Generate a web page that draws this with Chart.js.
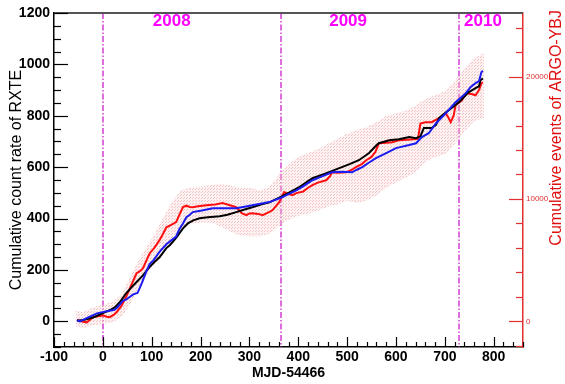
<!DOCTYPE html>
<html>
<head>
<meta charset="utf-8">
<script src="https://cdn.jsdelivr.net/npm/chart.js@4/dist/chart.umd.min.js"></script>
<style>
html,body{margin:0;padding:0;background:#fff;}
canvas{display:block;}
</style>
</head>
<body>
<canvas id="c" width="565" height="384"></canvas>
<script>
// ---- data (days = MJD-54466) ----
const rxteDays = [-53,-40,-20,0,14,25,35,48,60,70,82,95,105,116,130,137,150,164,174,185,198,215,239,255,273,290,306,325,341,361,380,400,429,455,484,505,524,545,560,565,586,606,627,641,650,657,673,682,688,708,729,749,763,770,773,778];
const rxteRate = [2,5,15,32,43,55,75,110,135,155,179,210,230,249,285,296,325,362,381,393,401,405,409,415,425,435,444,455,463,481,500,520,557,575,596,612,627,655,685,693,705,709,717,713,720,752,752,765,791,822,853,892,908,915,939,945];

const xray2Days = [-53,-47,-30,-12,8,24,30,41,48,62,71,80,90,96,103,116,130,140,150,157,164,171,178,184,200,225,250,273,290,306,341,367,380,396,410,429,450,469,490,510,520,531,545,559,580,600,627,641,653,667,682,702,722,743,753,763,770,775,778];
const xray2Rate = [4,0,15,31,39,45,55,80,85,105,110,150,199,224,236,270,300,315,330,360,381,405,415,425,430,440,440,440,446,452,464,483,495,510,525,549,565,580,582,580,590,600,618,635,655,674,686,693,717,732,771,810,853,888,912,927,935,970,975];

const argoDays = [-53,-45,-33,-20,-10,0,8,14,22,28,38,49,58,69,76,82,90,96,105,116,123,130,140,150,158,164,171,178,184,195,212,230,245,260,273,285,294,300,306,318,327,340,347,355,361,368,371,380,388,396,410,420,429,440,457,465,469,480,498,510,518,530,539,550,558,565,580,592,606,630,645,650,660,673,688,695,702,708,712,718,722,735,743,755,763,770,775,778];
const argoEvents = [105,0,-84,336,420,483,378,336,525,735,1260,2121,2940,3927,4095,4326,5040,5565,5985,6636,7140,7686,7875,8106,8820,9345,9450,9345,9324,9408,9492,9555,9660,9492,9324,8820,8673,8820,8841,8778,8673,8925,9072,9450,9744,10290,10563,10395,10311,10479,10605,10920,11130,11340,11529,11865,12180,12138,12180,12390,12600,12852,13167,13440,13860,14553,14595,14637,14805,14868,14910,16170,16275,16275,16611,16800,17010,16590,16275,16800,17661,18060,18648,18585,18480,18900,19467,19530];

const bandDays = [-55,-40,-20,0,20,40,60,80,100,120,140,160,180,200,220,240,260,280,300,320,340,360,380,400,420,440,460,480,500,520,540,560,580,600,620,640,660,680,700,720,740,760,780];
const bandLow  = [-420,-525,-315,-210,-105,420,1680,3150,4410,5250,6510,7560,7980,8085,8085,7770,7350,7035,6930,6930,7140,7770,8295,8610,8820,9030,9345,9555,9870,9660,9870,10290,10920,11340,11760,12180,13020,13440,13650,14490,15540,16380,16590];
const bandHigh = [840,735,1155,1365,1575,2310,3990,5460,6720,8190,9660,10710,10920,11025,11130,11235,11130,10920,10920,10710,10920,11970,12810,13440,13755,14070,14490,14910,15330,15645,15855,16275,16800,17010,17220,17640,18165,18480,18795,19635,20685,21525,21945];

const xTickValues = [-100,0,100,200,300,400,500,600,700,800];
const yTickValues = [0,200,400,600,800,1000,1200];
const y2TickValues = [0,10000,20000];
const yearDays = [0,365,730];
const yearNames = ['2008','2009','2010'];

// ---- helpers ----
const pts = (xs, ys) => xs.map((x, i) => ({x: x, y: ys[i]}));
const plain = v => String(v);

function makePattern() {
  const t = document.createElement('canvas');
  t.width = 3; t.height = 3;
  const g = t.getContext('2d');
  g.fillStyle = 'rgba(250,215,215,0.35)';
  g.fillRect(0, 0, 3, 3);
  g.fillStyle = 'rgba(230,140,140,0.45)';
  g.fillRect(0, 0, 1, 1);
  g.fillRect(1, 2, 1, 1);
  return document.getElementById('c').getContext('2d').createPattern(t, 'repeat');
}

const FONT = '"Liberation Sans", Arial, sans-serif';

const decorPlugin = {
  id: 'decor',
  beforeDatasetsDraw(chart) {
    const ctx = chart.ctx, a = chart.chartArea, xs = chart.scales.x;
    ctx.save();
    ctx.strokeStyle = '#d23cd2';
    ctx.lineWidth = 1.5;
    ctx.setLineDash([6, 2, 1.5, 2]);
    yearDays.forEach(d => {
      const px = Math.round(xs.getPixelForValue(d));
      ctx.beginPath(); ctx.moveTo(px, a.top); ctx.lineTo(px, a.bottom); ctx.stroke();
    });
    ctx.restore();
  },
  afterDraw(chart, args, opts) {
    const ctx = chart.ctx, a = chart.chartArea;
    const xs = chart.scales.x, ys = chart.scales.y, y2 = chart.scales.y2;
    ctx.save();
    // top frame
    ctx.strokeStyle = '#555';
    ctx.lineWidth = 2;
    ctx.beginPath(); ctx.moveTo(a.left, a.top); ctx.lineTo(a.right, a.top); ctx.stroke();
    // left ticks (inside)
    ctx.strokeStyle = '#000';
    ctx.lineWidth = 1.2;
    for (let v = -100; v <= 1200; v += 50) {
      const py = Math.round(ys.getPixelForValue(v)) + 0.5;
      const len = (v % 200 === 0) ? 14 : 7;
      ctx.beginPath(); ctx.moveTo(a.left, py); ctx.lineTo(a.left + len, py); ctx.stroke();
    }
    // bottom ticks (inside)
    for (let v = -100; v <= 860; v += 20) {
      const px = Math.round(xs.getPixelForValue(v)) + 0.5;
      const len = (v % 100 === 0) ? 10 : 5;
      ctx.beginPath(); ctx.moveTo(px, a.bottom); ctx.lineTo(px, a.bottom - len); ctx.stroke();
    }
    // right ticks (inside)
    ctx.strokeStyle = '#e03030';
    for (let v = -2000; v <= 25000; v += 2000) {
      const py = Math.round(y2.getPixelForValue(v)) + 0.5;
      const len = (v % 10000 === 0) ? 14 : 7;
      ctx.beginPath(); ctx.moveTo(a.right, py); ctx.lineTo(a.right - len, py); ctx.stroke();
    }
    // year labels
    ctx.fillStyle = '#ff00ff';
    ctx.font = 'bold 17px ' + FONT;
    ctx.textAlign = 'center';
    ctx.textBaseline = 'middle';
    yearNames.forEach((n, i) => {
      ctx.fillText(n, xs.getPixelForValue(opts.labelDays[i]), opts.labelY);
    });
    // right axis title (reads bottom to top, top-aligned)
    ctx.fillStyle = '#e01010';
    ctx.font = '16px ' + FONT;
    ctx.translate(opts.rightTitleX, opts.rightTitleTop);
    ctx.rotate(-Math.PI / 2);
    ctx.textAlign = 'right';
    ctx.textBaseline = 'middle';
    ctx.fillText('Cumulative events of ARGO-YBJ', 0, 0);
    ctx.restore();
  }
};

const pattern = makePattern();

new Chart(document.getElementById('c'), {
  type: 'line',
  data: {
    datasets: [
      {label: 'second X-ray series', data: pts(xray2Days, xray2Rate), yAxisID: 'y',
       borderColor: '#1c1cf0', borderWidth: 2, pointRadius: 0, fill: false},
      {label: 'RXTE', data: pts(rxteDays, rxteRate), yAxisID: 'y',
       borderColor: '#000000', borderWidth: 2, pointRadius: 0, fill: false},
      {label: 'ARGO-YBJ', data: pts(argoDays, argoEvents), yAxisID: 'y2',
       borderColor: '#ff1010', borderWidth: 2, pointRadius: 0, fill: false},
      {label: 'band high', data: pts(bandDays, bandHigh), yAxisID: 'y2',
       borderWidth: 0, borderColor: 'rgba(0,0,0,0)', pointRadius: 0, fill: '+1', backgroundColor: pattern},
      {label: 'band low', data: pts(bandDays, bandLow), yAxisID: 'y2',
       borderWidth: 0, borderColor: 'rgba(0,0,0,0)', pointRadius: 0, fill: false}
    ]
  },
  options: {
    responsive: false,
    animation: false,
    devicePixelRatio: 1,
    layout: {padding: {left: 0, right: 0, top: 13, bottom: 0}},
    plugins: {
      legend: {display: false},
      tooltip: {enabled: false},
      decor: {labelDays: [141, 502, 778], labelY: 21, rightTitleX: 557, rightTitleTop: 10}
    },
    scales: {
      x: {
        type: 'linear', position: 'bottom', min: -100, max: 860,
        afterBuildTicks: s => { s.ticks = xTickValues.map(v => ({value: v})); },
        afterFit: s => { s.height = 37; },
        grid: {display: false, drawTicks: false},
        border: {display: true, color: '#000', width: 1.5},
        ticks: {color: '#000', font: {family: FONT, size: 14, weight: 'bold'}, padding: 2, maxRotation: 0, autoSkip: false, callback: plain},
        title: {display: true, text: 'MJD-54466', color: '#000', font: {family: FONT, size: 14, weight: 'bold'}, padding: {top: 0, bottom: 2}}
      },
      y: {
        type: 'linear', position: 'left', min: -100, max: 1200,
        afterBuildTicks: s => { s.ticks = yTickValues.map(v => ({value: v})); },
        afterFit: s => { s.width = 54; },
        grid: {display: false, drawTicks: false},
        border: {display: true, color: '#000', width: 1.5},
        ticks: {color: '#000', font: {family: FONT, size: 14, weight: 'bold'}, padding: 4, autoSkip: false, callback: plain},
        title: {display: true, text: 'Cumulative count rate of RXTE', color: '#000', font: {family: FONT, size: 16}, padding: {top: 7, bottom: 0}}
      },
      y2: {
        type: 'linear', position: 'right', min: -2100, max: 25200,
        afterBuildTicks: s => { s.ticks = y2TickValues.map(v => ({value: v})); },
        afterFit: s => { s.width = 42; },
        grid: {display: false, drawTicks: false},
        border: {display: true, color: '#e03030', width: 1.5},
        ticks: {color: '#e03030', font: {family: FONT, size: 8}, padding: 3, autoSkip: false, callback: plain}
      }
    }
  },
  plugins: [decorPlugin]
});
</script>
</body>
</html>
